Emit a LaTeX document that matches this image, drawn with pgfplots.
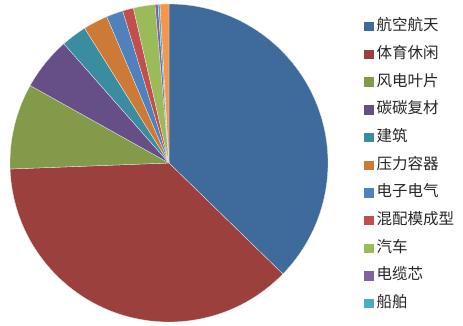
\documentclass[border=0pt]{standalone}
\usepackage{fontspec}
\setmainfont{Noto Sans CJK SC}
\usepackage{pgfplots}
\usepackage{pgfplotstable}
\pgfplotsset{compat=1.18}
\definecolor{slice0}{HTML}{3F6A9C}
\definecolor{slice1}{HTML}{9C403E}
\definecolor{slice2}{HTML}{829A4A}
\definecolor{slice3}{HTML}{664F87}
\definecolor{slice4}{HTML}{3A8DA1}
\definecolor{slice5}{HTML}{CC7A36}
\definecolor{slice6}{HTML}{4F81BD}
\definecolor{slice7}{HTML}{C0504D}
\definecolor{slice8}{HTML}{9BBB59}
\definecolor{slice9}{HTML}{8064A2}
\definecolor{slice10}{HTML}{4BACC6}
\definecolor{slice11}{HTML}{F79646}
\pgfplotstableread{
label value
航空航天 37.3
体育休闲 37.1
风电叶片 8.7
碳碳复材 5.4
建筑 2.6
压力容器 2.5
电子电气 1.7
混配模成型 1.1
汽车 2.2
电缆芯 0.3
船舶 0.2
其他 0.9
}\piedata
\begin{document}
\begin{tikzpicture}
\begin{axis}[
  scale only axis, width=463pt, height=326pt,
  xmin=0, xmax=463, ymin=0, ymax=326,
  hide axis, clip=false,
  legend style={at={(axis cs:361,309)}, anchor=north west, draw=none, fill=none,
    font=\fontsize{15.5}{17}\selectfont, text=black!85,
    nodes={inner sep=0pt, text height=11.5pt, text depth=3pt},
    row sep=13.2pt},
  legend cell align=left,
  legend image code/.code={\fill[#1] (0pt,-4.2pt) rectangle (8.4pt,4.2pt); \path (12pt,0pt);},
]
\fill[white] (axis cs:0,0) rectangle (axis cs:463,326);
\pgfplotstablegetrowsof{\piedata}
\pgfmathtruncatemacro\N{\pgfplotsretval-1}
\gdef\cum{90}
\pgfplotsforeachungrouped \i in {0,...,\N}{%
  \pgfplotstablegetelem{\i}{value}\of\piedata
  \pgfmathsetmacro\ang{\pgfplotsretval*3.6}%
  \pgfmathsetmacro\endang{\cum-\ang}%
  \pgfmathsetmacro\sx{169+159*cos(\cum)}%
  \pgfmathsetmacro\sy{163+159*sin(\cum)}%
  \edef\temp{\noexpand\filldraw[fill=slice\i, draw=white!85!gray, line width=0.3pt]
    (axis cs:169,163) -- (axis cs:\sx,\sy) arc[start angle=\cum, end angle=\endang, radius=159pt] -- cycle;}%
  \temp
  \xdef\cum{\endang}%
}
\addlegendimage{slice0}\addlegendentry{航空航天}
\addlegendimage{slice1}\addlegendentry{体育休闲}
\addlegendimage{slice2}\addlegendentry{风电叶片}
\addlegendimage{slice3}\addlegendentry{碳碳复材}
\addlegendimage{slice4}\addlegendentry{建筑}
\addlegendimage{slice5}\addlegendentry{压力容器}
\addlegendimage{slice6}\addlegendentry{电子电气}
\addlegendimage{slice7}\addlegendentry{混配模成型}
\addlegendimage{slice8}\addlegendentry{汽车}
\addlegendimage{slice9}\addlegendentry{电缆芯}
\addlegendimage{slice10}\addlegendentry{船舶}
\end{axis}
\pgfresetboundingbox
\path[use as bounding box] (current axis.south west) rectangle (current axis.north east);
\end{tikzpicture}
\end{document}
